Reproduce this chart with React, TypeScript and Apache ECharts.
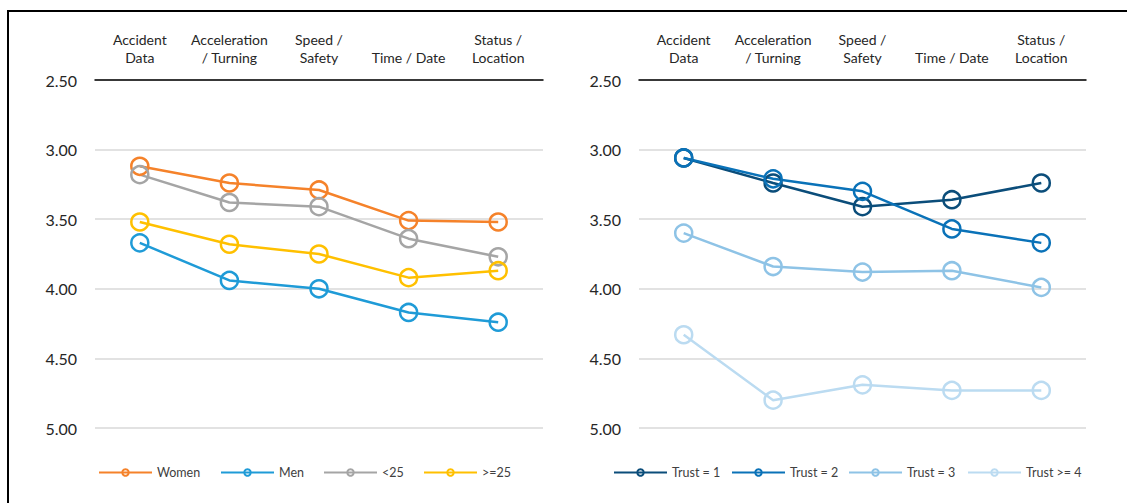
import React, { useEffect, useRef } from "react";
import * as echarts from "echarts";

const categories = ["Accident\nData", "Acceleration\n/ Turning", "Speed /\nSafety", "Time / Date", "Status /\nLocation"];
const yTicks = [2.5, 3.0, 3.5, 4.0, 4.5, 5.0];

const women = [3.12, 3.24, 3.29, 3.51, 3.52];
const men = [3.67, 3.94, 4.0, 4.17, 4.24];
const under25 = [3.18, 3.38, 3.41, 3.64, 3.77];
const over25 = [3.52, 3.68, 3.75, 3.92, 3.87];

const trust1 = [3.06, 3.24, 3.41, 3.36, 3.24];
const trust2 = [3.06, 3.21, 3.30, 3.57, 3.67];
const trust3 = [3.60, 3.84, 3.88, 3.87, 3.99];
const trust4 = [4.33, 4.80, 4.69, 4.73, 4.73];

const leftSeries = [
  { name: "Women", data: women, color: "#F5822A" },
  { name: "Men", data: men, color: "#1F9BD7" },
  { name: "<25", data: under25, color: "#A5A5A5" },
  { name: ">=25", data: over25, color: "#FFC000" },
];
const rightSeries = [
  { name: "Trust = 1", data: trust1, color: "#0B4D7A" },
  { name: "Trust = 2", data: trust2, color: "#0A72B8" },
  { name: "Trust = 3", data: trust3, color: "#8EC3E6" },
  { name: "Trust >= 4", data: trust4, color: "#BBDBF1" },
];

const legendLeftPos = [98, 220, 323, 423];
const legendRightPos = [613, 731, 848, 967];

const FONT = "Lato, 'Noto Sans', sans-serif";

export default function App() {
  const ref = useRef<HTMLDivElement>(null);
  useEffect(() => {
    if (!ref.current) return;
    const chart = echarts.init(ref.current, undefined, { renderer: "svg" });
    const mkX = (gridIndex: number) => ({
      type: "category",
      gridIndex,
      data: categories,
      position: "top",
      boundaryGap: true,
      axisLine: { show: true, lineStyle: { color: "#000", width: 1.5 } },
      axisTick: { show: false },
      axisLabel: { fontFamily: FONT, fontSize: 14, color: "#262626", lineHeight: 18, margin: 14, interval: 0 },
    });
    const mkY = (gridIndex: number) => ({
      type: "value",
      gridIndex,
      inverse: true,
      min: yTicks[0],
      max: yTicks[yTicks.length - 1],
      interval: 0.5,
      axisLine: { show: false },
      axisTick: { show: false },
      splitLine: { show: true, lineStyle: { color: "#D9D9D9", width: 1.5 } },
      axisLabel: {
        fontFamily: FONT,
        fontSize: 16,
        color: "#262626",
        margin: 18,
        formatter: (v: number) => v.toFixed(2),
      },
    });
    const mkSeries = (s: { name: string; data: number[]; color: string }, idx: number) => ({
      type: "line",
      name: s.name,
      xAxisIndex: idx,
      yAxisIndex: idx,
      data: s.data,
      symbol: "circle",
      symbolSize: 17,
      showSymbol: true,
      lineStyle: { color: s.color, width: 2.5 },
      itemStyle: { color: "rgba(255,255,255,0)", borderColor: s.color, borderWidth: 2.5 },
      emphasis: { disabled: true },
    });
    const mkLegend = (name: string, left: number) => ({
      orient: "horizontal",
      top: 466,
      left,
      padding: 0,
      itemWidth: 53,
      itemHeight: 8,
      textStyle: { fontFamily: FONT, fontSize: 12.5, color: "#404040" },
      selectedMode: false,
      data: [name],
    });
    chart.setOption({
      animation: false,
      backgroundColor: "#fff",
      grid: [
        { left: 95, right: 1127 - 543, top: 80, bottom: 503 - 428, containLabel: false },
        { left: 639, right: 1127 - 1086, top: 80, bottom: 503 - 428, containLabel: false },
      ],
      xAxis: [mkX(0), mkX(1)],
      yAxis: [mkY(0), mkY(1)],
      legend: [
        ...leftSeries.map((s, i) => mkLegend(s.name, legendLeftPos[i])),
        ...rightSeries.map((s, i) => mkLegend(s.name, legendRightPos[i])),
      ],
      series: [
        ...leftSeries.map((s) => mkSeries(s, 0)),
        ...rightSeries.map((s) => mkSeries(s, 1)),
      ],
      graphic: [
        { type: "line", shape: { x1: 8, y1: 10, x2: 8, y2: 503 }, style: { stroke: "#000", lineWidth: 2 } },
        { type: "line", shape: { x1: 7, y1: 11, x2: 1127, y2: 11 }, style: { stroke: "#000", lineWidth: 2 } },
      ],
    });
    return () => chart.dispose();
  }, []);
  return <div ref={ref} style={{ position: "fixed", left: 0, top: 0, width: 1127, height: 503 }} />;
}
